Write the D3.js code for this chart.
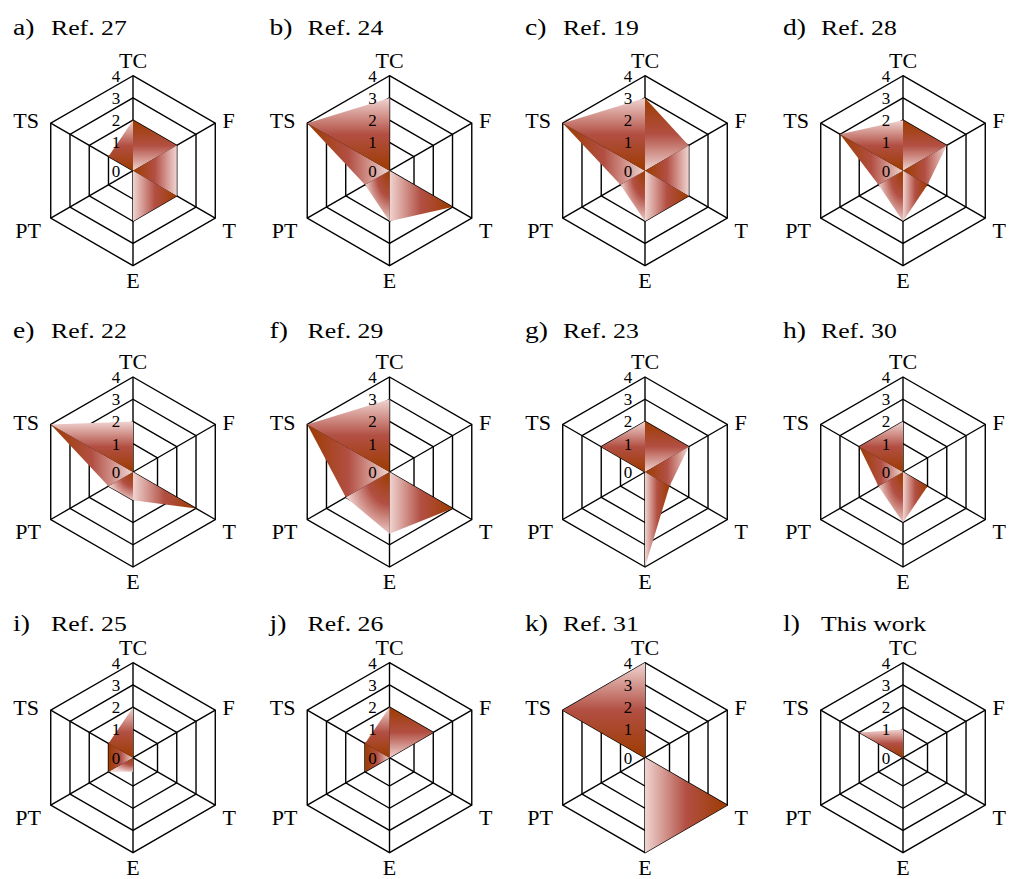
<!DOCTYPE html>
<html>
<head>
<meta charset="utf-8">
<script src="https://cdn.jsdelivr.net/npm/d3@7"></script>
<style>
  body { margin: 0; background: #fff; }
  svg text { font-family: 'Liberation Serif', 'Times New Roman', Times, 'DejaVu Serif', serif; }
</style>
</head>
<body>
<div id="chart"></div>
<script>
// axes clockwise from the top
const axes = ["TC", "F", "T", "E", "PT", "TS"];
const levels = [1, 2, 3, 4];
const tickLabels = [0, 1, 2, 3, 4];

const letters = ["a)", "b)", "c)", "d)", "e)", "f)", "g)", "h)", "i)", "j)", "k)", "l)"];
const names = ["Ref. 27", "Ref. 24", "Ref. 19", "Ref. 28", "Ref. 22", "Ref. 29",
               "Ref. 23", "Ref. 30", "Ref. 25", "Ref. 26", "Ref. 31", "This work"];

// scores per axis: TC, F, T, E, PT, TS
const ref27 = [2, 2, 2, 2, 0, 1];
const ref24 = [3, 0, 3, 2, 1, 4];
const ref19 = [3, 2, 2, 2, 1, 4];
const ref28 = [2, 2, 1, 2, 1, 3];
const ref22 = [2, 0, 3, 1, 1, 4];
const ref29 = [3, 0, 3, 2.5, 2, 4];
const ref23 = [2, 2, 1, 4, 0, 2];
const ref30 = [2, 0, 1, 2, 1, 2];
const ref25 = [2, 0, 0, 0.5, 1, 1];
const ref26 = [2, 2, 0, 0, 1, 1];
const ref31 = [4, 0, 4, 4, 0, 4];
const thisWork = [1, 0, 0, 0, 0, 2];
const scores = [ref27, ref24, ref19, ref28, ref22, ref29, ref23, ref30, ref25, ref26, ref31, thisWork];

const width = 1009, height = 879;
const colX = [133, 389.5, 645, 903];
const rowY = [170.7, 472, 757.7];
const titleY = [35, 338, 631];

// inner ring (1) sits a bit further out than the even spacing of the others
const r = d3.scaleLinear().domain([0, 1, 4]).range([0, 28.3, 95]);
const angle = d3.scaleLinear().domain([0, axes.length]).range([0, 2 * Math.PI]);

function pt(i, v) {
  const a = angle(i);
  return [r(v) * Math.sin(a), -r(v) * Math.cos(a)];
}

const svg = d3.select("#chart").append("svg")
    .attr("width", width)
    .attr("height", height);

// one gradient per wedge (bounding box units)
const light = "#f0d4d1", mid = "#b24f43", dark = "#9c3b00";
const wedgeGrad = [
  {type: "linear", x1: 0, y1: 0, x2: 0, y2: 1, from: dark, to: light},
  {type: "linear", x1: 0, y1: 0, x2: 1, y2: 0, from: dark, to: light},
  {type: "linear", x1: 0, y1: 0, x2: 1, y2: 0, from: light, to: dark},
  {type: "radial", cx: 1, cy: 0, r: 1.05, from: dark, to: light},
  {type: "linear", x1: 0, y1: 0, x2: 1, y2: 0, from: dark, to: light},
  {type: "linear", x1: 0, y1: 0, x2: 0, y2: 1, from: light, to: dark}
];

const defs = svg.append("defs");
wedgeGrad.forEach(function(g, i) {
  let gr;
  if (g.type == "radial") {
    gr = defs.append("radialGradient")
        .attr("id", "wg" + i)
        .attr("cx", g.cx).attr("cy", g.cy).attr("r", g.r)
        .attr("fx", g.cx).attr("fy", g.cy);
  } else {
    gr = defs.append("linearGradient")
        .attr("id", "wg" + i)
        .attr("x1", g.x1).attr("y1", g.y1)
        .attr("x2", g.x2).attr("y2", g.y2);
  }
  gr.append("stop").attr("offset", 0).attr("stop-color", g.from);
  gr.append("stop").attr("offset", 0.5).attr("stop-color", mid);
  gr.append("stop").attr("offset", 1).attr("stop-color", g.to);
});

const line = d3.line();

scores.forEach(function(vals, p) {
  const cx = colX[p % 4], cy = rowY[Math.floor(p / 4)];
  const g = svg.append("g").attr("transform", `translate(${cx},${cy})`);

  // rings
  g.selectAll(".ring")
    .data(levels)
    .join("path")
      .attr("class", "ring")
      .attr("d", v => line(axes.map((a, i) => pt(i, v))) + "Z")
      .attr("fill", "none")
      .attr("stroke", "#000")
      .attr("stroke-width", 1.4);

  // spokes
  g.selectAll(".spoke")
    .data(axes)
    .join("line")
      .attr("class", "spoke")
      .attr("x1", 0).attr("y1", 0)
      .attr("x2", (d, i) => pt(i, 4)[0])
      .attr("y2", (d, i) => pt(i, 4)[1])
      .attr("stroke", "#000")
      .attr("stroke-width", 1.4);

  // wedges: center + two neighbouring points
  g.selectAll(".wedge")
    .data(vals)
    .join("path")
      .attr("class", "wedge")
      .attr("d", function(v, i) {
        const j = (i + 1) % vals.length;
        return line([[0, 0], pt(i, v), pt(j, vals[j])]) + "Z";
      })
      .attr("fill", (v, i) => "url(#wg" + i + ")")
      .attr("stroke", "none");

  // value labels along the TC axis
  g.selectAll(".tick")
    .data(tickLabels)
    .join("text")
      .attr("class", "tick")
      .attr("x", -17)
      .attr("y", v => -r(v) + 6)
      .attr("text-anchor", "middle")
      .attr("font-size", "17px")
      .text(v => v);

  // axis names
  const lab = [
    {x: 0, y: -103, anchor: "middle"},
    {x: 89.5, y: -42.5, anchor: "start"},
    {x: 89.5, y: 67, anchor: "start"},
    {x: 0, y: 117, anchor: "middle"},
    {x: -92, y: 67, anchor: "end"},
    {x: -94, y: -42.5, anchor: "end"}
  ];
  g.selectAll(".axlab")
    .data(axes)
    .join("text")
      .attr("class", "axlab")
      .attr("x", (d, i) => lab[i].x)
      .attr("y", (d, i) => lab[i].y)
      .attr("text-anchor", (d, i) => lab[i].anchor)
      .attr("font-size", "22px")
      .text(d => d);

  // panel title (the original text is drawn a little wide)
  const ty = titleY[Math.floor(p / 4)];
  svg.append("text")
      .attr("transform", `translate(${cx - 120},${ty}) scale(1.2,1)`)
      .attr("font-size", "23px")
      .text(letters[p]);
  svg.append("text")
      .attr("transform", `translate(${cx - 82},${ty}) scale(1.17,1)`)
      .attr("font-size", "22px")
      .text(names[p]);
});
</script>
</body>
</html>
